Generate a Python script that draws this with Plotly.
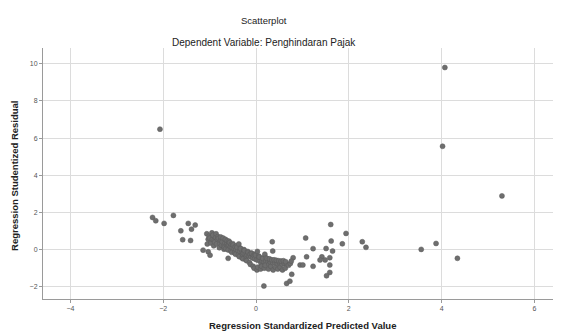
import plotly.graph_objects as go

# Scattered points (outside the dense band)
out_x = [-2.07, -2.23, -2.16, -1.98, -1.78, -1.46, -1.31, -1.39, -1.62, -1.58, -1.41,
         -1.14, -1.03, -0.99, -0.60,
         0.17, 0.66, 0.73, 0.35, 0.36, 0.77, 0.80, 0.95, 1.07, 1.09, 1.01, 1.23, 1.23,
         1.42, 1.38, 1.49, 1.51, 1.61, 1.62, 1.59, 1.59, 1.59, 1.52, 1.65, 1.86, 1.94,
         2.29, 2.37,
         4.07, 4.02, 5.30, 3.88, 3.56, 4.34]
out_y = [6.48, 1.73, 1.55, 1.41, 1.84, 1.41, 1.32, 1.10, 1.01, 0.53, 0.49,
         -0.03, -0.12, -0.30, -0.47,
         -1.96, -1.82, -1.70, 0.42, -0.08, -1.33, -0.44, -0.83, 0.62, -0.39, -0.83, 0.05, -0.90,
         -0.39, -0.56, -0.56, 0.06, 1.35, 0.46, -0.44, -0.83, -1.23, -1.41, -0.08, 0.31, 0.87,
         0.42, 0.12,
         9.80, 5.56, 2.89, 0.33, 0.01, -0.47]

# Dense band of points
band_x = [-1.06, -1.03, -1.05, -1.01, -0.98, -1.00, -0.95, -0.97, -0.94,
          -0.93, -0.90, -0.91, -0.87, -0.89, -0.86, -0.83, -0.85, -0.82,
          -0.81, -0.78, -0.79, -0.77, -0.75, -0.74, -0.76,
          -0.73, -0.70, -0.71, -0.69, -0.67, -0.66, -0.68,
          -0.63, -0.65, -0.62, -0.61, -0.59, -0.58, -0.60,
          -0.55, -0.57, -0.54, -0.53, -0.51, -0.50, -0.52,
          -0.47, -0.49, -0.46, -0.45, -0.43, -0.42, -0.44,
          -0.39, -0.41, -0.38, -0.37, -0.35, -0.34, -0.36,
          -0.31, -0.33, -0.30, -0.29, -0.27, -0.26, -0.28,
          -0.23, -0.25, -0.22, -0.21, -0.19, -0.18, -0.20,
          -0.15, -0.17, -0.14, -0.13, -0.11, -0.10, -0.12,
          -0.07, -0.09, -0.06, -0.05, -0.03, -0.02, -0.04,
          0.01, -0.01, 0.02, 0.03, 0.05, 0.06, 0.04,
          0.09, 0.07, 0.10, 0.11, 0.13, 0.14, 0.12,
          0.17, 0.15, 0.18, 0.19, 0.21, 0.22, 0.20,
          0.26, 0.24, 0.27, 0.28, 0.31, 0.29, 0.32,
          0.36, 0.34, 0.37, 0.41, 0.39, 0.42,
          0.46, 0.44, 0.47, 0.51, 0.49, 0.52,
          0.56, 0.54, 0.57, 0.61, 0.59, 0.66, 0.64, 0.63,
          0.70, 0.74, 0.76]
band_y = [0.85, 0.55, 0.30, 0.72, 0.45, 0.62, 0.90, 0.35, 0.55,
          0.78, 0.50, 0.20, 0.65, 0.40, 0.85, 0.55, 0.30, 0.70,
          0.60, 0.35, 0.10, 0.48, 0.50, 0.22, 0.68,
          0.42, 0.18, 0.62, 0.02, 0.35, 0.55, 0.12,
          0.30, 0.05, 0.48, 0.20, 0.25, 0.45, -0.02,
          0.15, 0.38, -0.08, 0.28, 0.10, 0.32, -0.15,
          0.05, 0.25, -0.18, 0.15, 0.00, 0.20, -0.25,
          -0.05, 0.12, -0.30, 0.30, -0.10, 0.08, -0.38,
          -0.15, 0.05, -0.45, -0.25, -0.20, 0.00, -0.50,
          -0.25, -0.05, -0.55, -0.35, -0.30, -0.10, -0.60,
          -0.35, -0.15, -0.70, -0.25, -0.40, -0.18, -0.80,
          -0.45, -0.22, -0.90, -0.30, -0.50, -0.25, -1.00,
          -0.55, -0.30, -1.10, -0.10, -0.58, -0.35, -0.95,
          -0.60, -0.40, -1.05, -0.75, -0.62, -0.45, -0.90,
          -0.65, -0.48, -1.00, -0.25, -0.62, -0.45, -0.85,
          -0.65, -0.48, -1.05, -0.80, -0.68, -0.50, -0.90,
          -0.70, -0.55, -1.10, -0.72, -0.55, -0.95,
          -0.75, -0.58, -1.05, -0.72, -0.60, -0.95,
          -0.78, -0.62, -1.10, -0.75, -0.60, -0.80, -0.65, -1.00,
          -0.85, -0.75, -0.62]

x_vals = out_x + band_x
y_vals = out_y + band_y

x_ticks = [-4, -2, 0, 2, 4, 6]
y_ticks = [-2, 0, 2, 4, 6, 8, 10]

fig = go.Figure()
fig.add_trace(go.Scatter(
    x=x_vals, y=y_vals, mode="markers",
    marker=dict(size=5, color="#6e6e6e", line=dict(width=0.5, color="#5a5a5a")),
    showlegend=False, hoverinfo="skip"))

axis_common = dict(
    showgrid=True, gridcolor="#dcdcdc", gridwidth=1,
    zeroline=False, showline=True, linecolor="#9a9a9a", linewidth=1,
    ticks="outside", ticklen=3, tickcolor="#9a9a9a",
    tickfont=dict(family="Liberation Sans", size=7, color="#555555"),
)

fig.update_layout(
    width=561, height=331,
    margin=dict(l=43, r=8, t=48, b=32, autoexpand=False),
    paper_bgcolor="white", plot_bgcolor="white",
    xaxis=dict(range=[-4.59, 6.4], tickvals=x_ticks, automargin=False, **axis_common),
    yaxis=dict(range=[-2.66, 10.85], tickvals=y_ticks, automargin=False, **axis_common),
    annotations=[
        dict(text="Scatterplot", xref="paper", yref="paper", x=0.433, y=1.108,
             xanchor="center", yanchor="middle", showarrow=False,
             font=dict(family="Liberation Sans", size=9.5, color="#222222")),
        dict(text="Dependent Variable: Penghindaran Pajak", xref="paper", yref="paper",
             x=0.433, y=1.022, xanchor="center", yanchor="middle", showarrow=False,
             font=dict(family="Liberation Sans", size=10, color="#222222")),
        dict(text="<b>Regression Standardized Predicted Value</b>", xref="paper", yref="paper",
             x=0.508, y=-0.104, xanchor="center", yanchor="middle", showarrow=False,
             font=dict(family="Liberation Sans", size=9.5, color="#222222")),
        dict(text="<b>Regression Studentized Residual</b>", xref="paper", yref="paper",
             x=-0.057, y=0.49, xanchor="center", yanchor="middle", showarrow=False,
             textangle=-90,
             font=dict(family="Liberation Sans", size=9.5, color="#222222")),
    ],
)

fig.write_html("out.html", config={"displayModeBar": False},
               post_script="document.body.style.margin='0';")
